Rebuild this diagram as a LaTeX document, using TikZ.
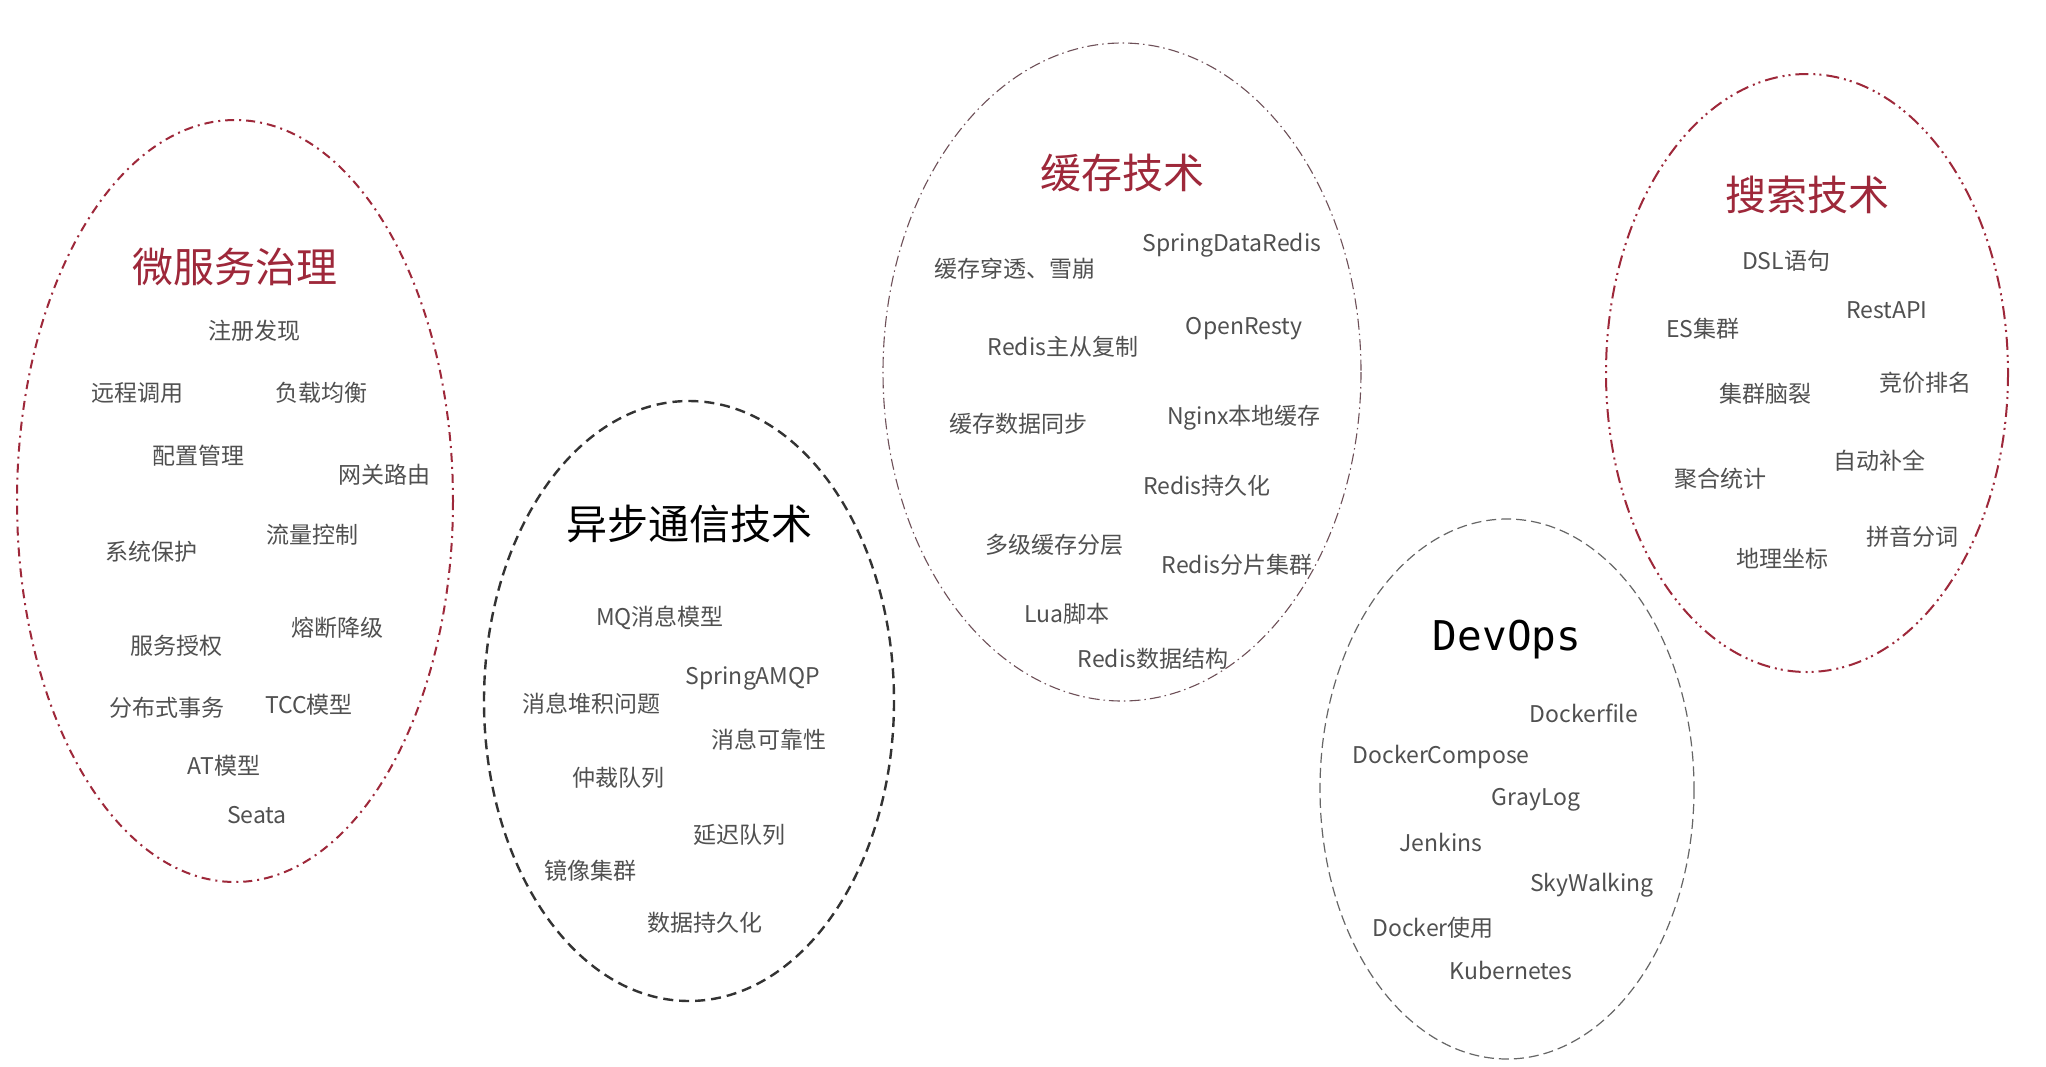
\documentclass[tikz,border=0pt]{standalone}
\usepackage{fontspec}
\setmainfont{Noto Sans CJK SC}
\newfontfamily\devmono{DejaVu Sans Mono}
\definecolor{crimson}{RGB}{158,40,58}
\definecolor{itemgray}{RGB}{80,80,80}
\definecolor{cachegray}{RGB}{110,80,88}
\begin{document}
\begin{tikzpicture}[x=1pt,y=-1pt,
  item/.style={text=itemgray,font=\fontsize{23}{26}\selectfont,inner sep=0pt,yshift=-2.5pt},
  redtitle/.style={text=crimson,font=\fontsize{41}{46}\selectfont,inner sep=0pt,yshift=-1.5pt},
  blacktitle/.style={text=black,font=\fontsize{41}{46}\selectfont,inner sep=0pt,yshift=-1.5pt},
  ringA/.style={draw=crimson,line width=2pt,dash pattern=on 9pt off 5pt on 2pt off 5pt},
  ringB/.style={draw=black!80,line width=2.4pt,dash pattern=on 10pt off 6pt},
  ringC/.style={draw=cachegray,line width=1.1pt,dash pattern=on 11pt off 4pt on 1.5pt off 4pt},
  ringD/.style={draw=crimson,line width=2pt,dash pattern=on 13pt off 5pt on 2pt off 4pt on 2pt off 5pt},
  ringE/.style={draw=black!60,line width=1.2pt,dash pattern=on 10pt off 5pt}]
\useasboundingbox (0,0) rectangle (2046,1066);
\fill[white] (0,0) rectangle (2046,1066);

% Ellipse 1: microservice governance
\draw[ringA] (235,501) ellipse [x radius=218, y radius=381];
\node[redtitle] (t1) at (235,265) {微服务治理};
\node[item] (a1) at (254,328) {注册发现};
\node[item] (a2) at (137,390) {远程调用};
\node[item] (a3) at (321,390) {负载均衡};
\node[item] (a4) at (198,453) {配置管理};
\node[item] (a5) at (384,472) {网关路由};
\node[item] (a6) at (312,532) {流量控制};
\node[item] (a7) at (151,549) {系统保护};
\node[item] (a8) at (337,625) {熔断降级};
\node[item] (a9) at (176,643) {服务授权};
\node[item] (a10) at (167,705) {分布式事务};
\node[item] (a11) at (309,702) {TCC模型};
\node[item] (a12) at (224,763) {AT模型};
\node[item] (a13) at (257,813) {Seata};

% Ellipse 2: async messaging
\draw[ringB] (689,701) ellipse [x radius=205, y radius=300];
\node[blacktitle] (t2) at (689,522) {异步通信技术};
\node[item] (b1) at (660,615) {MQ消息模型};
\node[item] (b2) at (753,676) {SpringAMQP};
\node[item] (b3) at (591,701) {消息堆积问题};
\node[item] (b4) at (769,737) {消息可靠性};
\node[item] (b5) at (618,775) {仲裁队列};
\node[item] (b6) at (739,832) {延迟队列};
\node[item] (b7) at (590,868) {镜像集群};
\node[item] (b8) at (705,920) {数据持久化};

% Ellipse 3: caching
\draw[ringC] (1122,372) ellipse [x radius=239, y radius=329];
\node[redtitle] (t3) at (1122,171) {缓存技术};
\node[item] (c1) at (1232,243) {SpringDataRedis};
\node[item] (c2) at (1015,266) {缓存穿透、雪崩};
\node[item] (c3) at (1244,326) {OpenResty};
\node[item] (c4) at (1063,344) {Redis主从复制};
\node[item] (c5) at (1244,415) {Nginx本地缓存};
\node[item] (c6) at (1018,421) {缓存数据同步};
\node[item] (c7) at (1207,483) {Redis持久化};
\node[item] (c8) at (1054,542) {多级缓存分层};
\node[item] (c9) at (1237,562) {Redis分片集群};
\node[item] (c10) at (1067,611) {Lua脚本};
\node[item] (c11) at (1153,656) {Redis数据结构};

% Ellipse 4: search
\draw[ringD] (1807,373) ellipse [x radius=201, y radius=299];
\node[redtitle] (t4) at (1807,193) {搜索技术};
\node[item] (d1) at (1786,258) {DSL语句};
\node[item] (d2) at (1887,308) {RestAPI};
\node[item] (d3) at (1703,326) {ES集群};
\node[item] (d4) at (1925,380) {竞价排名};
\node[item] (d5) at (1765,391) {集群脑裂};
\node[item] (d6) at (1879,458) {自动补全};
\node[item] (d7) at (1720,476) {聚合统计};
\node[item] (d8) at (1912,534) {拼音分词};
\node[item] (d9) at (1782,556) {地理坐标};

% Ellipse 5: DevOps
\draw[ringE] (1507,789) ellipse [x radius=187, y radius=270];
\node[blacktitle,font=\devmono\fontsize{41}{46}\selectfont,yshift=-4pt] (t5) at (1507,634) {DevOps};
\node[item] (e1) at (1584,711) {Dockerfile};
\node[item] (e2) at (1441,754) {DockerCompose};
\node[item] (e3) at (1536,797) {GrayLog};
\node[item] (e4) at (1441,840) {Jenkins};
\node[item] (e5) at (1592,883) {SkyWalking};
\node[item] (e6) at (1433,925) {Docker使用};
\node[item] (e7) at (1511,968) {Kubernetes};
\end{tikzpicture}
\end{document}
